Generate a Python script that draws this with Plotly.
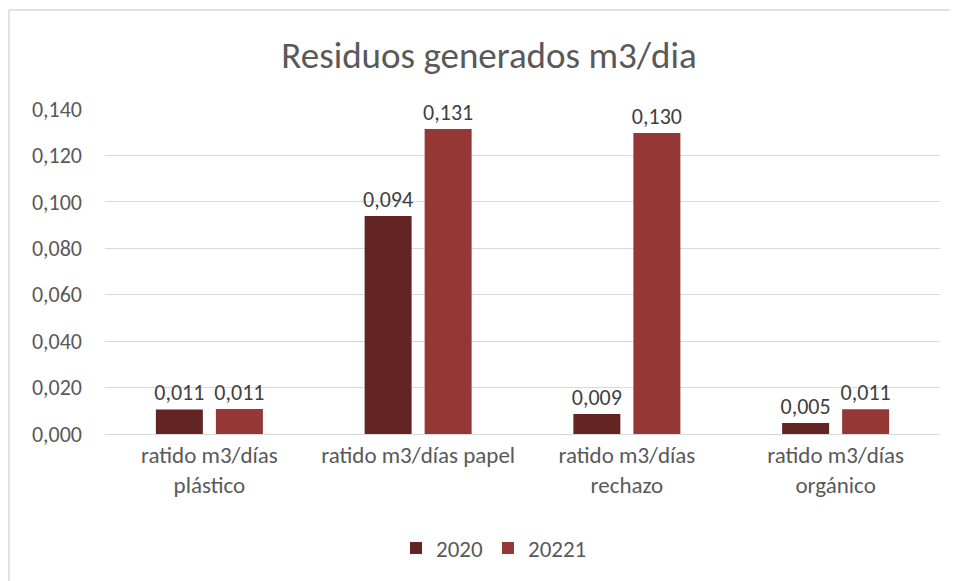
import plotly.graph_objects as go

categories = ["ratido m3/días<br>plástico", "ratido m3/días papel",
              "ratido m3/días<br>rechazo", "ratido m3/días<br>orgánico"]
series_names = ["2020", "20221"]
values_2020 = [0.0106, 0.0939, 0.0086, 0.0047]
values_20221 = [0.0108, 0.1314, 0.1297, 0.0107]
tick_vals = [0, 0.02, 0.04, 0.06, 0.08, 0.10, 0.12, 0.14]

colors = ["#632523", "#953735"]
font_fam = "Calibri, Carlito, Lato, sans-serif"

fig = go.Figure()
for name, vals, col in zip(series_names, [values_2020, values_20221], colors):
    fig.add_trace(go.Bar(
        x=categories, y=vals, name=name,
        marker=dict(color=col, line=dict(width=0)),
        texttemplate="%{y:.3f}", textposition="outside", cliponaxis=False,
        constraintext="none",
        textfont=dict(size=22, color="#404040"),
    ))

# the page body adds an 8px offset, so work in figure coords = screen - 8
OFF = 8
W, H = 958, 581
l, r, t, b = 105 - OFF, W - (940 - OFF), 109 - OFF, H - (434 - OFF)
pw, ph = W - l - r, H - t - b

def px(x):
    return (x - OFF - l) / pw

def py(y):
    return (H - b - (y - OFF)) / ph

fig.update_layout(
    width=W, height=H,
    margin=dict(l=l, r=r, t=t, b=b),
    paper_bgcolor="white", plot_bgcolor="white",
    font=dict(family=font_fam, color="#595959", size=22),
    title=dict(text="Residuos generados m3/dia", x=px(489), xanchor="center",
               xref="paper", y=1 - (55 - OFF) / H, yanchor="middle",
               font=dict(size=37, color="#595959", family=font_fam)),
    barmode="group", bargap=0.425, bargroupgap=0.217,
    separators=",.",
    showlegend=True,
    legend=dict(orientation="h", x=px(494), xanchor="center", y=py(548), yanchor="middle",
                font=dict(size=23, color="#595959"), itemwidth=30,
                traceorder="normal"),
    xaxis=dict(showgrid=False, showline=True, linecolor="#D9D9D9", linewidth=1,
               ticks="", tickfont=dict(size=23, color="#595959")),
    yaxis=dict(range=[0, 0.14], tickvals=tick_vals, tickformat=".3f",
               showgrid=True, gridcolor="#D9D9D9", gridwidth=1,
               zeroline=False, showline=False, ticks="",
               ticklabelstandoff=22,
               tickfont=dict(size=22, color="#595959")),
    shapes=[
        dict(type="line", xref="paper", yref="paper",
             x0=px(9), x1=px(W + 20), y0=py(10), y1=py(10),
             line=dict(color="#D9D9D9", width=1.5)),
        dict(type="line", xref="paper", yref="paper",
             x0=px(9), x1=px(9), y0=py(10), y1=py(H + 20),
             line=dict(color="#D9D9D9", width=1.5)),
    ],
)

fig.write_html("out.html")
